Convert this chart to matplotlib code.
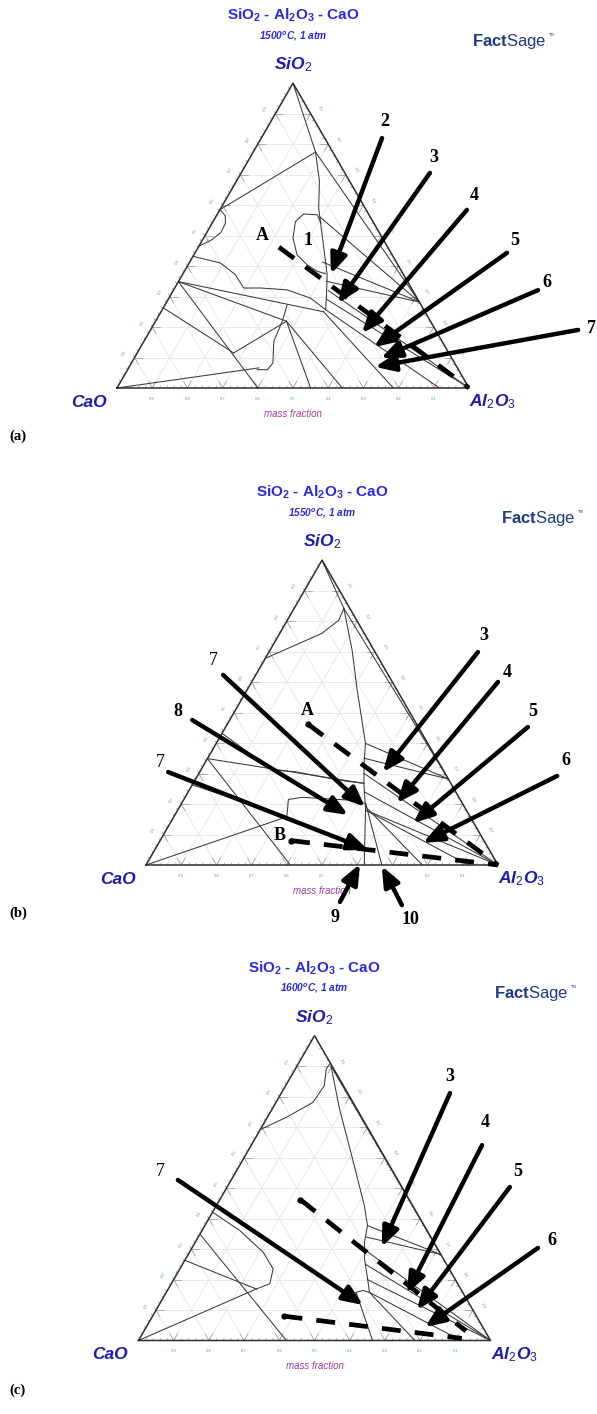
import numpy as np
import matplotlib.pyplot as plt

plt.rcParams['font.family'] = 'Liberation Sans'
plt.rcParams['mathtext.fontset'] = 'custom'
plt.rcParams['mathtext.rm'] = 'Liberation Sans'
plt.rcParams['mathtext.bf'] = 'Liberation Sans:weight=bold'
plt.rcParams['mathtext.it'] = 'Liberation Sans:style=italic:weight=bold'

W, H = 597, 1414
SIDE = 352.0          # pixels per unit edge of the triangle
R3 = np.sqrt(3) / 2

# compositions are (SiO2, Al2O3) mass fractions, CaO is the rest
SIO2 = (1.0, 0.0)
AL2O3 = (0.0, 1.0)
CAO = (0.0, 0.0)
MULLITE = (0.282, 0.718)
C2S = (0.349, 0.0)
C3S = (0.263, 0.0)
GEHL = (0.219, 0.372)
CA2 = (0.0, 0.785)
CA6 = (0.0, 0.916)
POINT_A = (0.462, 0.229)
POINT_B = (0.080, 0.372)

# ---- 1500 C phase boundaries and tie lines
lines_1500 = [
    [(0.585, 0.0), (0.565, 0.025), (0.540, 0.038), (0.510, 0.040), (0.485, 0.025), (0.465, 0.0)],
    [(0.585, 0.0), (0.774, 0.177)],
    [SIO2, (0.774, 0.177)],
    [(0.774, 0.177), MULLITE],
    [(0.774, 0.177), (0.680, 0.235), (0.590, 0.278), (0.459, 0.358), (0.372, 0.411), (0.300, 0.445), (0.257, 0.464)],
    [(0.541, 0.309), (0.568, 0.285), (0.571, 0.245), (0.546, 0.234), (0.492, 0.254), (0.437, 0.293),
     (0.404, 0.338), (0.383, 0.377), (0.375, 0.405)],
    [(0.561, 0.296), MULLITE],
    [(0.413, 0.378), MULLITE],
    [(0.350, 0.420), MULLITE],
    [(0.320, 0.440), AL2O3],
    [(0.290, 0.452), AL2O3],
    [(0.257, 0.464), CA6],
    [(0.250, 0.462), CA2],
    [(0.432, 0.0), (0.410, 0.089), (0.372, 0.150), (0.328, 0.196), (0.328, 0.244), (0.322, 0.322),
     (0.295, 0.402), (0.257, 0.464)],
    [C2S, (0.250, 0.462)],
    [C2S, (0.0, 0.40)],
    [C3S, (0.115, 0.274)],
    [(0.115, 0.274), GEHL],
    [CAO, (0.066, 0.370)],
    [C2S, GEHL],
    [GEHL, (0.0, 0.55)],
    [GEHL, (0.0, 0.64)],
    [(0.273, 0.347), (0.219, 0.360), (0.153, 0.369), (0.082, 0.402), (0.060, 0.397), (0.060, 0.368)],
]

# ---- 1550 C
lines_1550 = [
    [(0.678, 0.0), (0.716, 0.056), (0.760, 0.120), (0.803, 0.146), (0.842, 0.141)],
    [SIO2, (0.842, 0.141)],
    [(0.842, 0.141), MULLITE],
    [(0.842, 0.141), (0.705, 0.233), (0.574, 0.313), (0.399, 0.424), (0.333, 0.453), (0.268, 0.485), (0.180, 0.534)],
    [(0.399, 0.424), MULLITE],
    [(0.350, 0.445), MULLITE],
    [(0.300, 0.470), AL2O3],
    [(0.240, 0.500), AL2O3],
    [(0.180, 0.534), AL2O3],
    [(0.180, 0.534), CA6],
    [(0.432, 0.0), (0.377, 0.093), (0.333, 0.162), (0.311, 0.211), (0.306, 0.271), (0.290, 0.350),
     (0.275, 0.430), (0.268, 0.485)],
    [C2S, (0.268, 0.485)],
    [CAO, (0.158, 0.321)],
    [C3S, (0.158, 0.321)],
    [(0.158, 0.321), (0.215, 0.297), (0.222, 0.332), (0.213, 0.469), (0.202, 0.523)],
    [C2S, (0.0, 0.41)],
    [(0.202, 0.523), (0.0, 0.62)],
    [(0.202, 0.523), (0.0, 0.67)],
    [(0.190, 0.530), CA2],
]

# ---- 1600 C
lines_1600 = [
    [(0.692, 0.0), (0.732, 0.054), (0.781, 0.105), (0.836, 0.110), (0.891, 0.088), (0.910, 0.090)],
    [(0.900, 0.097), MULLITE],
    [(0.900, 0.097), (0.760, 0.191), (0.596, 0.310), (0.443, 0.420), (0.377, 0.462), (0.322, 0.481),
     (0.268, 0.508), (0.202, 0.550), (0.158, 0.577)],
    [(0.377, 0.462), MULLITE],
    [(0.340, 0.475), MULLITE],
    [(0.300, 0.490), AL2O3],
    [(0.250, 0.520), AL2O3],
    [(0.200, 0.550), AL2O3],
    [(0.421, 0.0), (0.361, 0.107), (0.290, 0.209), (0.235, 0.265), (0.186, 0.280), (0.169, 0.250)],
    [CAO, (0.169, 0.250)],
    [C3S, (0.169, 0.250)],
    [C2S, (0.0, 0.42)],
    [(0.158, 0.539), (0.164, 0.555), (0.158, 0.577)],
    [(0.158, 0.539), (0.0, 0.665)],
    [(0.158, 0.577), CA2],
    [(0.158, 0.577), CA6],
]

# arrows as (tail, tip) in triangle units, and numbered labels
arrows_1500 = [((0.753, 0.710), (0.608, 0.324)), ((0.889, 0.611), (0.628, 0.241)),
               ((0.994, 0.506), (0.696, 0.156)), ((1.108, 0.384), (0.730, 0.116)),
               ((1.196, 0.278), (0.750, 0.085)), ((1.310, 0.165), (0.733, 0.060))]
labels_1500 = [('1', 0.543, 0.420, 'bold'), ('2', 0.761, 0.756, 'bold'), ('3', 0.901, 0.656, 'bold'),
               ('4', 1.014, 0.548, 'bold'), ('5', 1.131, 0.420, 'bold'), ('6', 1.222, 0.301, 'bold'),
               ('7', 1.347, 0.170, 'bold'), ('A', 0.412, 0.432, 'bold')]

arrows_1550 = [((0.943, 0.605), (0.673, 0.264)), ((1.000, 0.520), (0.713, 0.176)),
               ((1.085, 0.392), (0.759, 0.119)), ((1.168, 0.253), (0.787, 0.063)),
               ((0.219, 0.540), (0.622, 0.165)), ((0.131, 0.412), (0.574, 0.142)),
               ((0.063, 0.264), (0.631, 0.043)), ((0.551, -0.105), (0.608, 0.003)),
               ((0.727, -0.114), (0.670, -0.003))]
labels_1550 = [('A', 0.457, 0.440, 'bold'), ('B', 0.381, 0.085, 'bold'), ('3', 0.960, 0.653, 'bold'),
               ('4', 1.026, 0.548, 'bold'), ('5', 1.099, 0.435, 'bold'), ('6', 1.193, 0.298, 'bold'),
               ('7', 0.190, 0.582, 'normal'), ('8', 0.091, 0.435, 'bold'), ('7', 0.040, 0.290, 'normal'),
               ('9', 0.537, -0.148, 'bold'), ('10', 0.750, -0.156, 'bold')]

arrows_1600 = [((0.885, 0.703), (0.691, 0.266)), ((0.976, 0.555), (0.763, 0.135)),
               ((1.055, 0.436), (0.791, 0.087)), ((1.135, 0.263), (0.814, 0.038)),
               ((0.112, 0.456), (0.638, 0.101))]
labels_1600 = [('3', 0.885, 0.749, 'bold'), ('4', 0.984, 0.618, 'bold'), ('5', 1.078, 0.479, 'bold'),
               ('6', 1.175, 0.285, 'bold'), ('7', 0.061, 0.479, 'normal')]

# composition paths A -> Al2O3 and B -> Al2O3
dashed_1500 = [(POINT_A, AL2O3)]
dashed_1550 = [(POINT_A, AL2O3), (POINT_B, AL2O3)]
dashed_1600 = [(POINT_A, (0.031, 0.915)), (POINT_B, (0.007, 0.915))]

temps = ['1500', '1550', '1600']
tick_vals = np.round(np.arange(0.1, 1.0, 0.1), 1)

BLUE = '#2a2ae0'
DARK_BLUE = '#1c1cae'
GREEN = '#5aad5a'
LOGO = '#1f3a82'


def tern(pts):
    p = np.asarray(pts, dtype=float)
    return p[:, 1] + p[:, 0] / 2, p[:, 0] * R3


def make_axes(fig, top, bottom, x0, ybase):
    ax = fig.add_axes([0, 1 - bottom / H, 1, (bottom - top) / H])
    ax.set_xlim(-x0 / SIDE, (W - x0) / SIDE)
    ax.set_ylim((ybase - bottom) / SIDE, (ybase - top) / SIDE)
    ax.axis('off')
    return ax


def draw_frame(ax, temp):
    # light grid
    for v in tick_vals:
        for seg in ([(v, 0), (v, 1 - v)], [(0, v), (1 - v, v)], [(0, 1 - v), (1 - v, 0)]):
            x, y = tern(seg)
            ax.plot(x, y, color='#e6e6e6', lw=0.6, zorder=1)
    # minor ticks along the edges
    for v in np.arange(0.02, 1.0, 0.02):
        for (p, d) in [((v, 0), (-0.5, R3)), ((0, v), (0.5, R3)), ((1 - v, v), (-1, 0))]:
            x, y = tern([p])
            d = np.array(d) * 0.007
            ax.plot([x[0], x[0] + d[0]], [y[0], y[0] + d[1]], color='#888888', lw=0.4, zorder=2)
    # major "v" ticks
    for v in tick_vals:
        for p, dirs in [((0, v), [(-0.5, R3), (0.5, R3)]),
                        ((v, 0), [(1, 0), (0.5, -R3)]),
                        ((1 - v, v), [(-1, 0), (-0.5, -R3)])]:
            x, y = tern([p])
            for d in dirs:
                d = np.array(d) * 0.022
                ax.plot([x[0], x[0] + d[0]], [y[0], y[0] + d[1]], color='#999999', lw=0.5, zorder=2)
    # outline
    x, y = tern([CAO, AL2O3, SIO2, CAO])
    ax.plot(x, y, color='#2e2e2e', lw=1.1, zorder=4, solid_joinstyle='miter')
    # tick labels
    for v in tick_vals:
        lab = f'{v:.1f}'
        x, y = tern([(v, 0)])
        ax.text(x[0] - 0.028, y[0] + 0.012, lab, fontsize=3, color=GREEN, rotation=60,
                ha='center', va='center')
        x, y = tern([(1 - v, v)])
        ax.text(x[0] + 0.028, y[0] + 0.012, lab, fontsize=3, color=GREEN, rotation=-60,
                ha='center', va='center')
        ax.text(1 - v, -0.030, lab, fontsize=3, color=GREEN, ha='center', va='center')

    ax.text(0.5, 1.058, 'SiO$_\\mathbf{2}$ - Al$_\\mathbf{2}$O$_\\mathbf{3}$ - CaO', fontsize=11,
            fontweight='bold', color=BLUE, ha='center', va='center')
    ax.text(0.5, 1.000, temp + '$^\\mathit{o}$C, 1 atm', fontsize=7.3, fontweight='bold',
            style='italic', color=BLUE, ha='center', va='center')
    ax.text(0.5, 0.918, 'SiO$_\\mathit{2}$', fontsize=12.5, fontweight='bold', style='italic',
            color=DARK_BLUE, ha='center', va='center')
    ax.text(-0.080, -0.040, 'CaO', fontsize=12.5, fontweight='bold', style='italic',
            color=DARK_BLUE, ha='center', va='center')
    ax.text(1.067, -0.040, 'Al$_\\mathit{2}$O$_\\mathit{3}$', fontsize=12.5, fontweight='bold',
            style='italic', color=DARK_BLUE, ha='center', va='center')
    ax.text(0.5, -0.073, 'mass fraction', fontsize=7, style='italic', color='#a03aa0',
            ha='center', va='center')
    # FactSage mark
    ax.text(1.115, 0.985, '$\\mathbf{Fact}$Sage', fontsize=12, color=LOGO,
            ha='center', va='center')
    ax.text(1.228, 1.003, 'TM', fontsize=2.8, color=LOGO, ha='left', va='center')


def draw_panel(ax, lines, arrows, labels, dashed, dots):
    for ln in lines:
        x, y = tern(ln)
        ax.plot(x, y, color='#3a3a3a', lw=0.75, zorder=3)
    for start, end in dashed:
        x, y = tern([start, end])
        ax.plot(x, y, color='black', lw=3.4, ls=(0, (4, 3)), dash_capstyle='butt', zorder=6)
        if dots:
            ax.plot(x[:1], y[:1], 'o', color='black', ms=3.5, zorder=7)
    for tail, tip in arrows:
        ax.annotate('', xy=tip, xytext=tail, annotation_clip=False,
                    arrowprops=dict(arrowstyle='-|>,head_length=1.2,head_width=0.5',
                                    color='black', lw=3.2, shrinkA=0, shrinkB=0), zorder=8)
    for txt, x, y, wt in labels:
        ax.text(x, y, txt, fontsize=13, fontweight=wt, family='Liberation Serif',
                ha='center', va='center', zorder=9)


fig = plt.figure(figsize=(W / 100, H / 100), dpi=100)

bands = [(0, H / 3, 117, 388), (H / 3, 2 * H / 3, 146, 865), (2 * H / 3, H, 138.5, 1340.5)]
panels = [(lines_1500, arrows_1500, labels_1500, dashed_1500, False),
          (lines_1550, arrows_1550, labels_1550, dashed_1550, True),
          (lines_1600, arrows_1600, labels_1600, dashed_1600, True)]
tags = ['(a)', '(b)', '(c)']
tag_y = [436, 913, 1390]

for (top, bottom, x0, yb), temp, pdata, tag, ty in zip(bands, temps, panels, tags, tag_y):
    ax = make_axes(fig, top, bottom, x0, yb)
    draw_frame(ax, temp)
    draw_panel(ax, *pdata)
    fig.text(18 / W, 1 - ty / H, tag, fontsize=10.5, fontweight='bold', family='Liberation Serif',
             ha='center', va='center')

fig.savefig('out.png', dpi=100)
